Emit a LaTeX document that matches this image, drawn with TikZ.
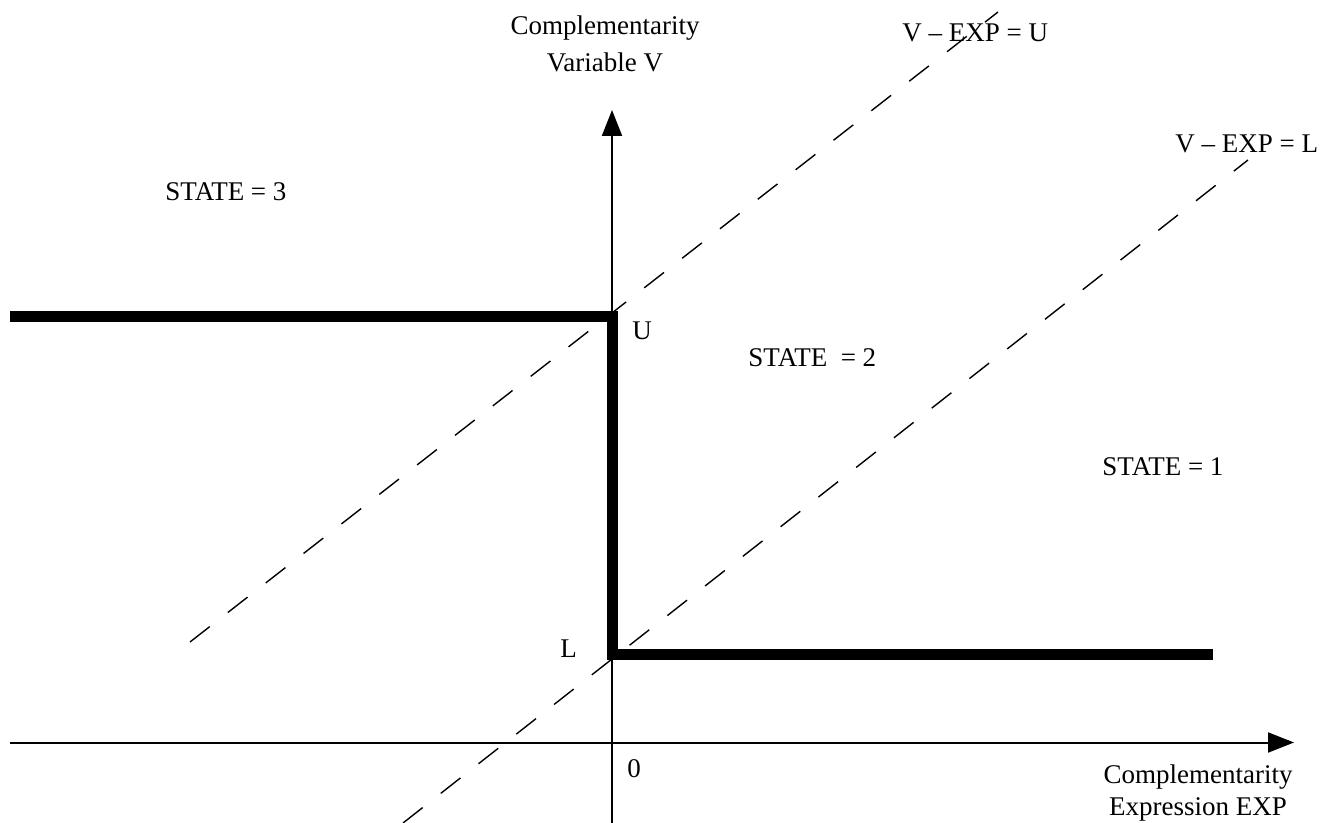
\documentclass[tikz,border=0pt]{standalone}
\usepackage{fontspec}
\setmainfont{Liberation Serif}
\usetikzlibrary{arrows.meta}
\begin{document}
\begin{tikzpicture}[x=0.5pt,y=-0.5pt,
  lbl/.style={inner sep=0pt, anchor=base west, font=\fontsize{13.5}{16}\selectfont},
  clbl/.style={inner sep=0pt, anchor=base, font=\fontsize{13.5}{16}\selectfont},
  axis/.style={line width=1pt, -{Triangle[length=13pt,width=10pt]}},
  dashline/.style={line width=0.7pt, dash pattern=on 12.5pt off 11.5pt},
  boundline/.style={line width=5.5pt, line join=miter, line cap=butt}]
\useasboundingbox (0,0) rectangle (1343,823);
\fill[white] (0,0) rectangle (1343,823);
% coordinates
\coordinate (xs) at (10,742.5);
\coordinate (xe) at (1294,742.5);
\coordinate (ys) at (612,823);
\coordinate (ye) at (612,110);
\coordinate (us) at (190,642);
\coordinate (ue) at (998,12);
\coordinate (ls) at (403,823);
\coordinate (le) at (1248,160);
\coordinate (b1) at (10,316.5);
\coordinate (b2) at (612.5,316.5);
\coordinate (b3) at (612.5,654);
\coordinate (b4) at (1213,654);
% dashed lines
\draw[dashline] (us) -- (ue);
\draw[dashline] (ls) -- (le);
% axes
\draw[axis] (xs) -- (xe);
\draw[axis] (ys) -- (ye);
% bound line
\draw[boundline] (b1) -- (b2) -- (b3) -- (b4);
% labels
\node[clbl] (vlab1) at (605,35) {Complementarity};
\node[clbl] (vlab2) at (605,72) {Variable V};
\node[clbl] (xlab1) at (1198,783) {Complementarity};
\node[clbl] (xlab2) at (1198,815) {Expression EXP};
\node[lbl] (eqU) at (902,42) {V – EXP = U};
\node[lbl] (eqL) at (1175,153) {V – EXP = L};
\node[lbl] (s3) at (165,201) {STATE = 3};
\node[lbl] (s2) at (748,367) {STATE~~= 2};
\node[lbl] (s1) at (1102,475) {STATE = 1};
\node[lbl] (Ulab) at (632,340) {U};
\node[lbl] (Llab) at (560,657) {L};
\node[lbl] (zero) at (627,777) {0};
\end{tikzpicture}
\end{document}
